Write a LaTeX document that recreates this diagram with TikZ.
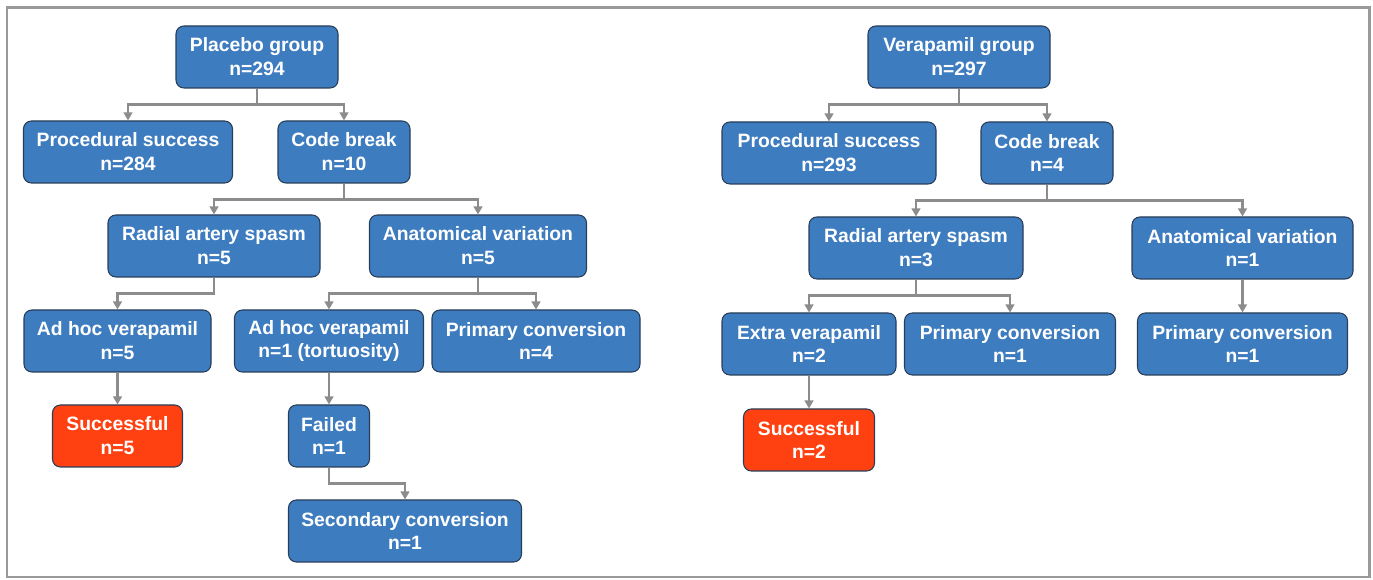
\documentclass[tikz,border=0pt]{standalone}
\usepackage{fontspec}
\setmainfont{Liberation Sans}
\usetikzlibrary{arrows.meta}

\definecolor{boxBlue}{RGB}{62,124,192}
\definecolor{boxEdge}{RGB}{40,62,88}
\definecolor{boxRed}{RGB}{255,64,16}
\definecolor{linkGray}{RGB}{140,140,140}
\definecolor{frameGray}{RGB}{154,154,156}

\tikzset{
    stepbox/.style={draw=boxEdge, line width=0.6pt, fill=boxBlue, rounded corners=4.5pt,
        text=white, font=\bfseries\fontsize{11}{13.6}\selectfont, align=center,
        minimum height=62*\px, inner sep=0pt},
    endbox/.style={stepbox, fill=boxRed},
    link/.style={draw=linkGray, line width=1.6pt,
        -{Triangle[width=5pt,length=4.6pt]}}
}

\begin{document}
\begin{tikzpicture}[x=0.02cm, y=-0.02cm]

% General parameters
\def\px{0.02cm}   % One pixel of the reference
\def\drop{16}     % Distance from a box to its fork

\useasboundingbox (0,0) rectangle (1373,580);

% Outer frame
\draw[frameGray, line width=1.7pt] (7,8) rectangle (1369,577);

% Placebo tree
\node[stepbox, minimum width=162*\px] (placebo) at (257,57) {Placebo group\\n=294};
\node[stepbox, minimum width=209*\px] (pSuccess) at (128,152) {Procedural success\\n=284};
\node[stepbox, minimum width=132*\px] (pCode) at (344,152) {Code break\\n=10};
\node[stepbox, minimum width=212*\px] (pSpasm) at (214,246) {Radial artery spasm\\n=5};
\node[stepbox, minimum width=217*\px] (pAnat) at (478,246) {Anatomical variation\\n=5};
\node[stepbox, minimum width=187*\px] (pAdhocA) at (117.5,341) {Ad hoc verapamil\\n=5};
\node[stepbox, minimum width=189*\px] (pAdhocB) at (329,341) {Ad hoc verapamil\\n=1 (tortuosity)};
\node[stepbox, minimum width=208*\px] (pPrimary) at (536,341) {Primary conversion\\n=4};
\node[endbox, minimum width=130*\px] (pSuccessful) at (117.5,436) {Successful\\n=5};
\node[stepbox, minimum width=81*\px] (pFailed) at (329,436) {Failed\\n=1};
\node[stepbox, minimum width=233*\px] (pSecondary) at (405,531) {Secondary conversion\\n=1};

% Verapamil tree
\node[stepbox, minimum width=182*\px] (verapamil) at (959,57) {Verapamil group\\n=297};
\node[stepbox, minimum width=214*\px] (vSuccess) at (829,153) {Procedural success\\n=293};
\node[stepbox, minimum width=132*\px] (vCode) at (1047,153) {Code break\\n=4};
\node[stepbox, minimum width=214*\px] (vSpasm) at (916,248) {Radial artery spasm\\n=3};
\node[stepbox, minimum width=221*\px] (vAnat) at (1242.5,248) {Anatomical variation\\n=1};
\node[stepbox, minimum width=174*\px] (vExtra) at (809,344) {Extra verapamil\\n=2};
\node[stepbox, minimum width=211*\px] (vPrimaryA) at (1010,344) {Primary conversion\\n=1};
\node[stepbox, minimum width=210*\px] (vPrimaryB) at (1242.5,344) {Primary conversion\\n=1};
\node[endbox, minimum width=131*\px] (vSuccessful) at (809,440) {Successful\\n=2};

% Connectors: down to the fork, across, down to the child
\foreach \from/\to in {placebo/pSuccess, placebo/pCode, pCode/pSpasm, pCode/pAnat,
    pSpasm/pAdhocA, pAnat/pAdhocB, pAnat/pPrimary, pAdhocA/pSuccessful,
    pAdhocB/pFailed, pFailed/pSecondary,
    verapamil/vSuccess, verapamil/vCode, vCode/vSpasm, vCode/vAnat,
    vSpasm/vExtra, vSpasm/vPrimaryA, vAnat/vPrimaryB, vExtra/vSuccessful} {
    \draw[link] (\from.south) -- ++(0,\drop) -| (\to.north);
}

\end{tikzpicture}
\end{document}
